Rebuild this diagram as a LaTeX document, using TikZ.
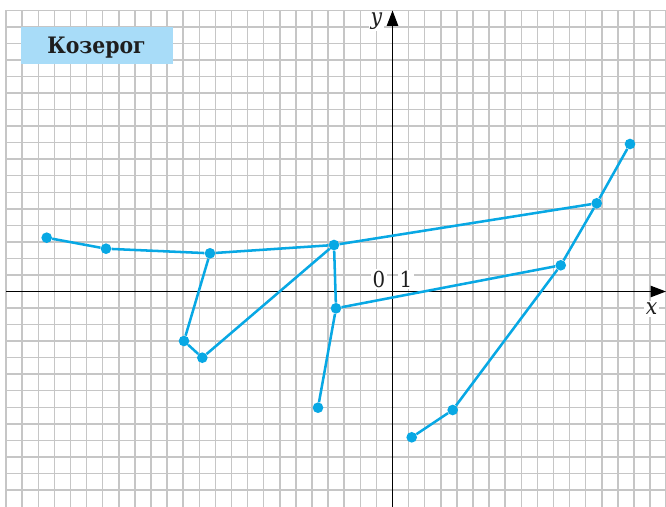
\documentclass[tikz,border=0pt]{standalone}
\usepackage{fontspec}
\newfontfamily\titlefont{DejaVu Serif Condensed}
\newfontfamily\lblfont{DejaVu Serif Condensed}
\usetikzlibrary{arrows.meta}
\definecolor{gridc}{RGB}{198,198,198}
\definecolor{curvec}{RGB}{8,168,228}
\definecolor{boxc}{RGB}{168,220,248}
\definecolor{textc}{RGB}{30,30,30}
\begin{document}
\begin{tikzpicture}[x=0.75pt,y=-0.75pt,
  gridline/.style={draw=gridc,line width=1.1pt},
  axisline/.style={draw=black,line width=0.85pt,-{Triangle[length=11.5pt,width=8.5pt]}},
  dot/.style={circle,fill=curvec,inner sep=0pt,minimum size=8pt},
  seg/.style={draw=curvec,line width=1.9pt},
  numlbl/.style={font=\lblfont\fontsize{16.5}{19}\selectfont,text=textc,fill=white,inner sep=1pt},
  axlbl/.style={font=\lblfont\itshape\fontsize{17}{20}\selectfont,text=textc,fill=white,inner sep=1.5pt},
  titlebox/.style={fill=boxc,draw=none}]
\useasboundingbox (0,0) rectangle (666,506);
% grid
\begin{scope}
\clip (0,0) rectangle (666,506);
\foreach \k in {-24,...,17} \draw[gridline] ({392.5+\k*16.1},10.3) -- ({392.5+\k*16.1},507);
\foreach \j in {-12,...,17} \draw[gridline] (6.1,{291.5-\j*16.54}) -- (667,{291.5-\j*16.54});
\end{scope}
% title
\fill[titlebox] (20.7,27.3) rectangle (172.7,64.3);
\node[font=\titlefont\bfseries\fontsize{17}{20}\selectfont,text=textc,anchor=base,inner sep=0pt] (title) at (96.5,54) {Козерог};
% axes
\coordinate (xs) at (6.1,291.5);
\coordinate (xe) at (666,291.5);
\coordinate (ys) at (392.5,507);
\coordinate (ye) at (392.5,10.5);
\draw[axisline] (xs) -- (xe);
\draw[axisline] (ys) -- (ye);
\node[axlbl] (xl) at (651.5,309) {x};
\node[axlbl] (yl) at (376.5,21) {y};
\node[numlbl] (zero) at (379,279) {0};
\node[numlbl] (one) at (406,279) {1};
% points
\node[dot] (p1) at (46.7,237.7) {};
\node[dot] (p2) at (106,248.7) {};
\node[dot] (a) at (210,253.3) {};
\node[dot] (b) at (334,245) {};
\node[dot] (c) at (184,341) {};
\node[dot] (d) at (202.3,357.7) {};
\node[dot] (e) at (336,308.3) {};
\node[dot] (f) at (318,407.7) {};
\node[dot] (g) at (630,144) {};
\node[dot] (h) at (596.7,203.3) {};
\node[dot] (i) at (560.7,265.3) {};
\node[dot] (j) at (452.7,410) {};
\node[dot] (k) at (411.7,437.3) {};
% segments
\draw[seg] (p1) -- (p2) -- (a) -- (b);
\draw[seg] (a) -- (c) -- (d) -- (b);
\draw[seg] (b) -- (e) -- (f);
\draw[seg] (b) -- (h);
\draw[seg] (e) -- (i);
\draw[seg] (k) -- (j) -- (i) -- (h) -- (g);
\end{tikzpicture}
\end{document}
